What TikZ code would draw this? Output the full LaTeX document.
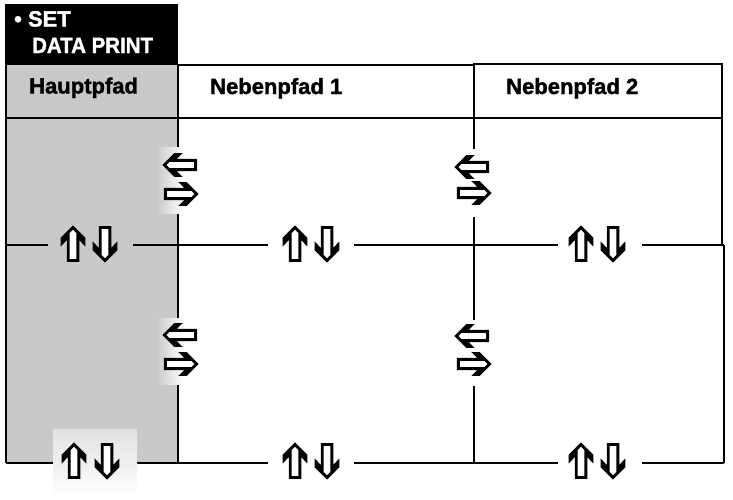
\documentclass[tikz,border=0pt]{standalone}
\usepackage{fontspec}
\setmainfont{Liberation Sans}
\newfontfamily\heavy{Liberation Sans}[BoldFeatures={FakeBold=1.6}]
\definecolor{graycol}{RGB}{201,201,201}
\tikzset{
  gridline/.style={draw=black,line width=1.2pt},
  arrowline/.style={draw=black,fill=white,line width=2.9pt,line join=miter},
  headtext/.style={inner sep=0pt,anchor=base west,font=\fontsize{22}{24}\selectfont\heavy\bfseries},
  boxtext/.style={inner sep=0pt,anchor=base west,text=white,font=\fontsize{22}{24}\selectfont\heavy\bfseries},
  uparrow/.pic={\draw[arrowline] (0,-16.5) -- (11,-5.5) -- (11,-1) -- (4.8,-7.5) -- (4.8,16.5) -- (-4.8,16.5) -- (-4.8,-7.5) -- (-11,-1) -- (-11,-5.5) -- cycle;}
}
\begin{document}
\begin{tikzpicture}[x=1pt,y=-1pt]
\useasboundingbox (0,0) rectangle (733,499);
% title box and main column
\fill[graycol] (6,65) rectangle (178,463);
\fill[black] (5,4) rectangle (178,65);
\node[boxtext] (set) at (14,26.5) {\textbullet\ SET};
\node[boxtext,xscale=0.93] (dp) at (32,53) {DATA PRINT};
% header texts
\node[headtext] (haupt) at (29,93.5) {Hauptpfad};
\node[headtext] (neben1) at (210,94) {Nebenpfad 1};
\node[headtext] (neben2) at (506,94) {Nebenpfad 2};
% grid lines
\draw[gridline] (6,65) -- (6,463);
\draw[gridline] (178,65) -- (474,65);
\draw[gridline] (474,64) rectangle (722,118);
\draw[gridline] (6,118) -- (722,118);
\draw[gridline] (178,65) -- (178,147) (178,213) -- (178,318) (178,384) -- (178,463);
\draw[gridline] (474,64) -- (474,149) (474,217) -- (474,320) (474,386) -- (474,463);
\draw[gridline] (722,64) -- (722,245);
\draw[gridline] (724,245) -- (724,463);
\draw[gridline] (6,245) -- (48,245) (133,245) -- (268,245) (354,245) -- (558,245) (642,245) -- (724,245);
\draw[gridline] (6,463) -- (53,463) (137,463) -- (268,463) (354,463) -- (558,463) (642,463) -- (724,463);
% fades behind arrows
\shade[left color=graycol,right color=white] (156,147) rectangle (184,213);
\fill[white] (184,147) rectangle (200,213);
\shade[left color=graycol,right color=white] (156,318) rectangle (184,384);
\fill[white] (184,318) rectangle (200,384);
\shade[top color=graycol!55!white,bottom color=white] (53,429) rectangle (137,499);
% up/down arrows
\foreach \cx/\cy in {73/244,295/244,581/244,74/461,295/461,581/461}
  \pic at (\cx,\cy) {uparrow};
\foreach \cx/\cy in {105/244,327/244,613/244,107/461,327/461,613/461}
  \pic[rotate=180] at (\cx,\cy) {uparrow};
% left/right arrows
\foreach \cx/\cy in {180/165,472/167,180/335,472/336}
  \pic[rotate=90,scale=0.95] at (\cx,\cy) {uparrow};
\foreach \cx/\cy in {181/194,474/193,181/364,474/364}
  \pic[rotate=-90,scale=0.95] at (\cx,\cy) {uparrow};
\end{tikzpicture}
\end{document}
